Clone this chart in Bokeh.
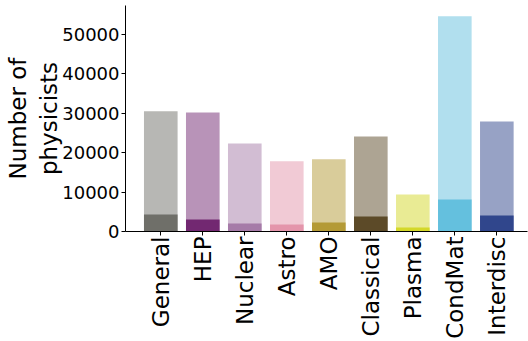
from bokeh.plotting import figure
from bokeh.models import ColumnDataSource, FixedTicker, Range1d
from bokeh.embed import file_html
from bokeh.resources import INLINE
import math

categories = ["General", "HEP", "Nuclear", "Astro", "AMO", "Classical", "Plasma", "CondMat", "Interdisc"]
total_physicists = [30500, 30200, 22300, 17800, 18300, 24100, 9400, 54600, 27900]
subset_physicists = [4300, 3050, 2000, 1800, 2300, 3800, 1000, 8100, 4050]
colors = ["#6f6f69", "#722871", "#a67ba8", "#e495ab", "#b49a36", "#5c4a28", "#d4d829", "#64c0de", "#30468c"]
y_ticks = [0, 10000, 20000, 30000, 40000, 50000]

xs = list(range(len(categories)))
src = ColumnDataSource(dict(x=xs, total=total_physicists, sub=subset_physicists, color=colors))

p = figure(width=528, height=341, output_backend="svg", toolbar_location=None,
           x_range=Range1d(-0.84, 8.73), y_range=Range1d(0, 57300),
           min_border_left=125, min_border_right=1, min_border_top=5, min_border_bottom=110)

p.vbar(x="x", top="total", width=0.8, fill_color="color", fill_alpha=0.5, line_color=None, source=src)
p.vbar(x="x", top="sub", width=0.8, fill_color="color", fill_alpha=1.0, line_color=None, source=src)

p.xgrid.visible = False
p.ygrid.visible = False
p.outline_line_color = None
p.background_fill_color = "white"
p.border_fill_color = "white"

font = "DejaVu Sans"
p.xaxis.ticker = FixedTicker(ticks=xs)
p.xaxis.major_label_overrides = {i: c for i, c in enumerate(categories)}
p.xaxis.major_label_orientation = math.pi / 2
p.xaxis.major_label_text_font = font
p.xaxis.major_label_text_font_size = "23px"
p.xaxis.major_label_text_color = "black"
p.xaxis.major_label_standoff = 1
p.xaxis.minor_tick_line_color = None
p.xaxis.major_tick_in = 0
p.xaxis.major_tick_out = 4
p.xaxis.axis_line_color = "black"
p.xaxis.major_tick_line_color = "black"

p.yaxis.ticker = FixedTicker(ticks=y_ticks)
p.yaxis.major_label_text_font = font
p.yaxis.major_label_text_font_size = "18px"
p.yaxis.major_label_text_color = "black"
p.yaxis.major_label_standoff = 2
p.yaxis.minor_tick_line_color = None
p.yaxis.major_tick_in = 0
p.yaxis.major_tick_out = 4
p.yaxis.axis_line_color = "black"
p.yaxis.major_tick_line_color = "black"
p.yaxis.axis_label = "Number of\nphysicists"
p.yaxis.axis_label_text_font = font
p.yaxis.axis_label_text_font_size = "23px"
p.yaxis.axis_label_text_font_style = "normal"
p.yaxis.axis_label_text_color = "black"
p.yaxis.axis_label_standoff = -3

open("out.html", "w").write(file_html(p, INLINE))
